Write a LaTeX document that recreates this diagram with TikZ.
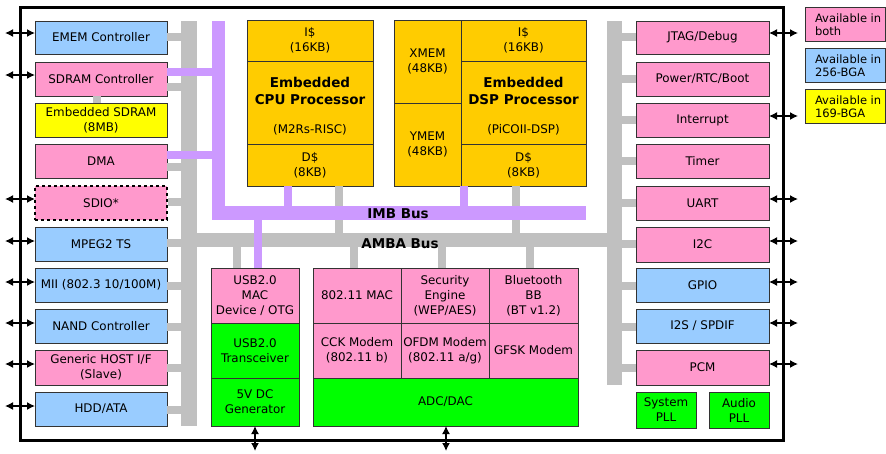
\documentclass[tikz,border=0pt]{standalone}
\usepackage{fontspec}
\setmainfont{DejaVu Sans}
\usetikzlibrary{arrows.meta}
\definecolor{cpink}{HTML}{FF99CC}
\definecolor{cblue}{HTML}{99CCFF}
\definecolor{cyel}{HTML}{FFFF00}
\definecolor{cgold}{HTML}{FFCC00}
\definecolor{cgreen}{HTML}{00FF00}
\definecolor{cpurp}{HTML}{CC99FF}
\definecolor{cgray}{HTML}{C0C0C0}
% \blk[style]{name}{x1}{y1}{x2}{y2}{text}
\newcommand\blk[7][]{%
  \node[#1, minimum width={(#5-#3)*1pt}, minimum height={(#6-#4)*1pt}]
    (#2) at ({(#3+#5)/2},{(#4+#6)/2}) {#7};}
\begin{document}
\begin{tikzpicture}[x=1pt,y=-1pt,
  txt/.style={inner sep=0pt, outer sep=0pt, align=center, font=\fontsize{11.9}{15}\selectfont},
  btxt/.style={inner sep=0pt, align=center, font=\fontsize{13.5}{17}\selectfont\bfseries},
  blk/.style={txt, draw=black!80, line width=0.9pt},
  pinkb/.style={blk, fill=cpink},
  blueb/.style={blk, fill=cblue},
  yelb/.style={blk, fill=cyel},
  goldb/.style={blk, fill=cgold},
  greenb/.style={blk, fill=cgreen},
  gbar/.style={inner sep=0pt, outer sep=0pt, fill=cgray},
  pbar/.style={inner sep=0pt, outer sep=0pt, fill=cpurp},
  gstub/.style={draw=cgray, line width=8pt},
  pstub/.style={draw=cpurp, line width=8pt},
  io/.style={{Latex[length=8pt,width=8pt]}-{Latex[length=8pt,width=8pt]}, line width=1.4pt},
]
\useasboundingbox (0,0) rectangle (886,453);
\fill[white] (0,0) rectangle (886,453);

% chip frame
\draw[line width=3pt] (20.5,7.5) rectangle (783.5,440);

% gray buses
\blk[gbar]{lbus}{181}{21}{197}{426}{}
\blk[gbar]{rbus}{607}{21}{622}{385}{}
\blk[gbar]{amba}{181}{233}{622}{247}{}

% ---------- left column ----------
\blk[blueb]{emem}{35}{21}{167}{54}{EMEM Controller}
\blk[pinkb]{sdram}{35}{62}{167}{96}{SDRAM Controller}
\blk[yelb]{esdram}{35}{103}{167}{137}{Embedded SDRAM\\(8MB)}
\blk[pinkb]{dma}{35}{144}{167}{178}{DMA}
\blk[pinkb, draw=black, dashed, line width=1.8pt]{sdio}{35}{186}{167}{220}{SDIO*}
\blk[blueb]{mpeg}{35}{227}{167}{261}{MPEG2 TS}
\blk[blueb]{mii}{35}{268}{167}{302}{MII (802.3 10/100M)}
\blk[blueb]{nand}{35}{309}{167}{343}{NAND Controller}
\blk[pinkb]{host}{35}{350}{167}{385}{Generic HOST I/F\\(Slave)}
\blk[blueb]{hdd}{35}{392}{167}{426}{HDD/ATA}

% ---------- right column ----------
\blk[pinkb]{jtag}{636}{21}{769}{54}{JTAG/Debug}
\blk[pinkb]{power}{636}{62}{769}{96}{Power/RTC/Boot}
\blk[pinkb]{intr}{636}{103}{769}{137}{Interrupt}
\blk[pinkb]{timer}{636}{144}{769}{178}{Timer}
\blk[pinkb]{uart}{636}{186}{769}{220}{UART}
\blk[pinkb]{iic}{636}{227}{769}{262}{I2C}
\blk[blueb]{gpio}{636}{268}{769}{302}{GPIO}
\blk[blueb]{iis}{636}{309}{769}{343}{I2S / SPDIF}
\blk[pinkb]{pcm}{636}{350}{769}{385}{PCM}
\blk[greenb]{spll}{636}{392}{696}{428}{System\\PLL}
\blk[greenb]{apll}{709}{392}{769}{428}{Audio\\PLL}

% ---------- CPU ----------
\blk[goldb]{cpui}{247}{20}{373}{61}{I\$\\(16KB)}
\blk[goldb]{cpum}{247}{61}{373}{144}{}
\blk[goldb]{cpud}{247}{144}{373}{186}{D\$\\(8KB)}
\node[btxt] (cputitle) at (310,90.5) {Embedded\\CPU Processor};
\node[txt] (cpusub) at (310,130) {(M2Rs-RISC)};

% ---------- DSP ----------
\blk[goldb]{xmem}{394}{20}{461}{103}{XMEM\\(48KB)}
\blk[goldb]{ymem}{394}{103}{461}{186}{YMEM\\(48KB)}
\blk[goldb]{dspi}{461}{20}{586}{61}{I\$\\(16KB)}
\blk[goldb]{dspm}{461}{61}{586}{144}{}
\blk[goldb]{dspd}{461}{144}{586}{186}{D\$\\(8KB)}
\node[btxt] (dsptitle) at (523.5,90.5) {Embedded\\DSP Processor};
\node[txt] (dspsub) at (523.5,130) {(PiCOII-DSP)};

% ---------- USB ----------
\blk[pinkb]{usbmac}{211}{268}{299}{323}{USB2.0\\MAC\\Device / OTG}
\blk[greenb]{usbtr}{211}{323}{299}{378}{USB2.0\\Transceiver}
\blk[greenb]{dcgen}{211}{378}{299}{426}{5V DC\\Generator}

% ---------- wireless ----------
\blk[pinkb]{wmac}{313}{268}{401}{323}{802.11 MAC}
\blk[pinkb]{sec}{401}{268}{489}{323}{Security\\Engine\\(WEP/AES)}
\blk[pinkb]{bt}{489}{268}{578}{323}{Bluetooth\\BB\\(BT v1.2)}
\blk[pinkb]{cck}{313}{323}{401}{378}{CCK Modem\\(802.11 b)}
\blk[pinkb]{ofdm}{401}{323}{489}{378}{OFDM Modem\\(802.11 a/g)}
\blk[pinkb]{gfsk}{489}{323}{578}{378}{GFSK Modem}
\blk[greenb]{adc}{313}{378}{578}{426}{ADC/DAC}

% ---------- gray stubs ----------
\draw[gstub] (emem.east |- 0,37) -- (lbus.west |- 0,37);
\draw[gstub] (sdram.east |- 0,86.5) -- (lbus.west |- 0,86.5);
\draw[gstub] (dma.east |- 0,167) -- (lbus.west |- 0,167);
\draw[gstub] ([xshift=0.9pt]sdio.east |- 0,202) -- (lbus.west |- 0,202);
\draw[gstub] (mpeg.east |- 0,243) -- (lbus.west |- 0,243);
\draw[gstub] (mii.east |- 0,285.5) -- (lbus.west |- 0,285.5);
\draw[gstub] (nand.east |- 0,327) -- (lbus.west |- 0,327);
\draw[gstub] (host.east |- 0,368) -- (lbus.west |- 0,368);
\draw[gstub] (hdd.east |- 0,409.5) -- (lbus.west |- 0,409.5);
\draw[gstub] (sdram.south -| 97,0) -- (esdram.north -| 97,0);

\draw[gstub] (rbus.east |- 0,37) -- (jtag.west |- 0,37);
\draw[gstub] (rbus.east |- 0,78.5) -- (power.west |- 0,78.5);
\draw[gstub] (rbus.east |- 0,119.5) -- (intr.west |- 0,119.5);
\draw[gstub] (rbus.east |- 0,161) -- (timer.west |- 0,161);
\draw[gstub] (rbus.east |- 0,203) -- (uart.west |- 0,203);
\draw[gstub] (rbus.east |- 0,243.5) -- (iic.west |- 0,243.5);
\draw[gstub] (rbus.east |- 0,285.5) -- (gpio.west |- 0,285.5);
\draw[gstub] (rbus.east |- 0,327) -- (iis.west |- 0,327);
\draw[gstub] (rbus.east |- 0,368) -- (pcm.west |- 0,368);

\draw[gstub] (cpud.south -| 339,0) -- (amba.north -| 339,0);
\draw[gstub] (dspd.south -| 515.5,0) -- (amba.north -| 515.5,0);
\draw[gstub] (amba.south -| 236.5,0) -- (usbmac.north -| 236.5,0);
\draw[gstub] (amba.south -| 353.5,0) -- (wmac.north -| 353.5,0);
\draw[gstub] (amba.south -| 442,0) -- (sec.north -| 442,0);
\draw[gstub] (amba.south -| 529.5,0) -- (bt.north -| 529.5,0);

% ---------- purple IMB ----------
\blk[pbar]{pv}{212}{21}{225}{220}{}
\blk[pbar]{imb}{212}{206}{586}{220}{}
\draw[pstub] (sdram.east |- 0,72) -- (pv.west |- 0,72);
\draw[pstub] (dma.east |- 0,155) -- (pv.west |- 0,155);
\draw[pstub] (cpud.south -| 288,0) -- (imb.north -| 288,0);
\draw[pstub] (dspd.south -| 464,0) -- (imb.north -| 464,0);
\draw[pstub] (imb.south -| 257.5,0) -- (usbmac.north -| 257.5,0);

% bus labels
\node[btxt] (imblbl) at (398,214) {IMB Bus};
\node[btxt] (ambalbl) at (400,243.5) {AMBA Bus};

% ---------- I/O arrows ----------
\coordinate (l1) at (5,33);
\coordinate (l2) at (5,75);
\coordinate (l3) at (5,199);
\coordinate (l4) at (5,241);
\coordinate (l5) at (5,282);
\coordinate (l6) at (5,323);
\coordinate (l7) at (5,364);
\coordinate (l8) at (5,406);
\draw[io] (l1) -- (emem.west |- l1);
\draw[io] (l2) -- (sdram.west |- l2);
\draw[io] (l3) -- (sdio.west |- l3);
\draw[io] (l4) -- (mpeg.west |- l4);
\draw[io] (l5) -- (mii.west |- l5);
\draw[io] (l6) -- (nand.west |- l6);
\draw[io] (l7) -- (host.west |- l7);
\draw[io] (l8) -- (hdd.west |- l8);

\coordinate (r1) at (798,33);
\coordinate (r2) at (798,116);
\coordinate (r3) at (798,199);
\coordinate (r4) at (798,241);
\coordinate (r5) at (798,282);
\coordinate (r6) at (798,323);
\coordinate (r7) at (798,364);
\draw[io] (jtag.east |- r1) -- (r1);
\draw[io] (intr.east |- r2) -- (r2);
\draw[io] (uart.east |- r3) -- (r3);
\draw[io] (iic.east |- r4) -- (r4);
\draw[io] (gpio.east |- r5) -- (r5);
\draw[io] (iis.east |- r6) -- (r6);
\draw[io] (pcm.east |- r7) -- (r7);

\coordinate (b1) at (255,451);
\coordinate (b2) at (446,451);
\draw[io] (dcgen.south -| b1) -- (b1);
\draw[io] (adc.south -| b2) -- (b2);

% ---------- legend ----------
\blk[pinkb]{leg1}{805}{7}{885.5}{41}{}
\blk[blueb]{leg2}{805}{48}{885.5}{82}{}
\blk[yelb]{leg3}{805}{89}{885.5}{123}{}
\node[txt, anchor=west, align=left, font=\fontsize{11.5}{13.5}\selectfont] (leg1t) at (815,24.5) {Available in\\both};
\node[txt, anchor=west, align=left, font=\fontsize{11.5}{13.5}\selectfont] (leg2t) at (815,65.5) {Available in\\256-BGA};
\node[txt, anchor=west, align=left, font=\fontsize{11.5}{13.5}\selectfont] (leg3t) at (815,106.5) {Available in\\169-BGA};
\end{tikzpicture}
\end{document}
